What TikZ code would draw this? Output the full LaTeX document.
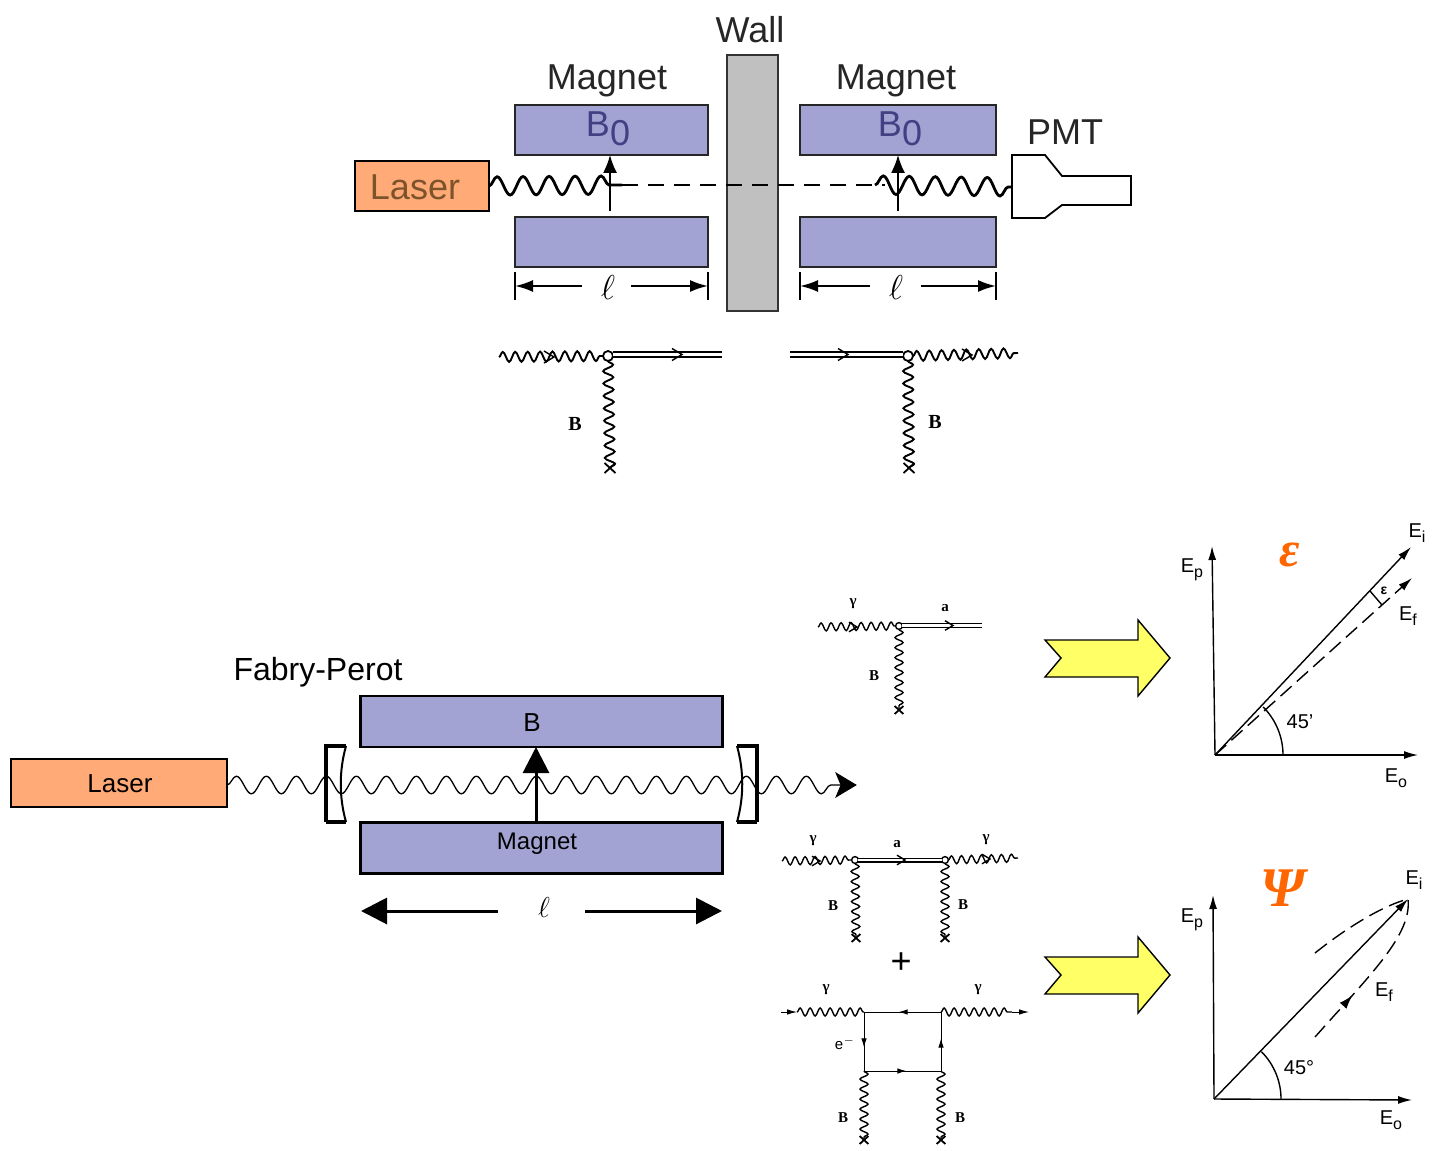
\documentclass[tikz,border=0pt]{standalone}
\usepackage{fontspec}
\setmainfont{Liberation Sans}
\newfontfamily\slabfont{Liberation Serif}
\usetikzlibrary{arrows.meta,decorations.pathmorphing,decorations.markings,calc}
\definecolor{magblue}{HTML}{A2A2D3}
\definecolor{laserorange}{HTML}{FFAA77}
\definecolor{wallgray}{HTML}{C0C0C0}
\definecolor{brightorange}{HTML}{FF6600}
\definecolor{yellowarrow}{HTML}{FFFF66}
\newcommand{\Esub}[1]{E\raisebox{-2.5pt}{\fontsize{8}{8}\selectfont #1}}
\tikzset{
  every node/.style={inner sep=0pt,outer sep=0pt},
  topmag/.style={draw=black!85,line width=1.1pt,fill=magblue,minimum height=25pt},
  botmag/.style={draw=black,line width=1.2pt,fill=magblue,minimum width=181pt,minimum height=25.5pt},
  laserbox/.style={draw=black,fill=laserorange},
  toptext/.style={font=\fontsize{18}{20}\selectfont,text=black!85},
  bigwave/.style={decorate,decoration={snake,segment length=13pt,amplitude=4.6pt},line width=1.4pt},
  fpwave/.style={decorate,decoration={snake,segment length=15pt,amplitude=4.4pt},line width=.65pt},
  feynbig/.style={decorate,decoration={snake,segment length=6.2pt,amplitude=2.5pt},line width=.95pt},
  feynsmall/.style={decorate,decoration={snake,segment length=5pt,amplitude=2pt},line width=.7pt},
  vtxbig/.style={circle,draw,line width=.9pt,minimum size=5pt},
  vtxsmall/.style={circle,draw,line width=.7pt,minimum size=3.4pt},
  dblbig/.style={double,double distance=1.7pt,line width=.7pt},
  dblsmall/.style={double,double distance=1.4pt,line width=.55pt},
  lab/.style={font=\slabfont\bfseries\fontsize{10}{11}\selectfont},
  labs/.style={font=\slabfont\bfseries\fontsize{7.5}{8}\selectfont},
  axis/.style={line width=.7pt,-{Latex[length=7pt,width=4pt]}},
  axlab/.style={font=\fontsize{10}{12}\selectfont},
  bigtip/.style={-{Triangle[length=13pt,width=13pt]},line width=1.5pt},
  midtip/.style={postaction={decorate,decoration={markings,mark=at position #1 with {\arrow{Latex[length=4.5pt,width=2.8pt]}}}}},
  wire/.style={line width=.5pt},
  chevron/.pic={\draw[line width=.7pt] (-10,-6) -- (0,0) -- (-10,6);},
  xmark/.pic={\draw[line width=.9pt] (-5.5,-5) -- (5.5,5) (-5.5,5) -- (5.5,-5);},
  yarrow/.style={draw=black,line width=.7pt,fill=yellowarrow}
}
\begin{document}
\begin{tikzpicture}[x=.5pt,y=-.5pt]
\useasboundingbox (0,0) rectangle (1433,1150);
% ---------- top apparatus
\node[draw=black!80,line width=1.1pt,fill=wallgray,minimum width=25.5pt,minimum height=128pt] (wall) at (752.5,183) {};
\node[toptext] (walltext) at (750,30) {Wall};
\node[toptext] (magtextL) at (607,81) {Magnet};
\node[toptext] (magtextR) at (896,81) {Magnet};
\node[toptext] (pmttext) at (1065,132) {PMT};
\node[topmag,minimum width=96.5pt] (mTL) at (611.5,130) {};
\node[topmag,minimum width=96.5pt] (mBL) at (611.5,242) {};
\node[topmag,minimum width=98pt] (mTR) at (898,130) {};
\node[topmag,minimum width=98pt] (mBR) at (898,242) {};
\node[font=\fontsize{18}{20}\selectfont,text=blue!35!black!75] (b0L) at (608,129) {B\raisebox{-4.5pt}{0}};
\node[font=\fontsize{18}{20}\selectfont,text=blue!35!black!75] (b0R) at (900,129) {B\raisebox{-4.5pt}{0}};
\node[laserbox,line width=1.1pt,minimum width=67pt,minimum height=25pt] (laserT) at (422,186) {};
\node[font=\fontsize{18}{20}\selectfont,text=brown!65!black] (lasertextT) at (415,187) {Laser};
\coordinate (pmtA) at (1012,155);
\draw[line width=.9pt,fill=white] (pmtA) -- ++(33,0) -- ++(17,21) -- ++(69,0) -- ++(0,29) -- ++(-69,0) -- ++(-17,13) -- ++(-33,0) -- cycle;
\coordinate (beamM1) at (622,185);
\coordinate (beamM2) at (885,185);
\coordinate (beamR) at (875,185);
\coordinate (pmtIn) at (1012,187);
\draw[bigwave] (laserT.east) -- (beamM1);
\draw[line width=1pt,dash pattern=on 8pt off 5pt] (beamM1) -- (beamM2);
\draw[bigwave] (beamR) -- (pmtIn);
\coordinate (fieldL) at (610,211);
\coordinate (fieldR) at (898,211);
\draw[line width=.8pt,-{Latex[length=9pt,width=7pt]}] (fieldL) -- (fieldL |- mTL.south);
\draw[line width=.8pt,-{Latex[length=9pt,width=7pt]}] (fieldR) -- (fieldR |- mTR.south);
% dimensions top
\coordinate (d1a) at (515,286); \coordinate (d1b) at (582,286);
\coordinate (d1c) at (631,286); \coordinate (d1d) at (708,286);
\coordinate (d2a) at (800,286); \coordinate (d2b) at (870,286);
\coordinate (d2c) at (921,286); \coordinate (d2d) at (996,286);
\foreach \p in {d1a,d1d,d2a,d2d} \draw[line width=.9pt] ($(\p)+(0,-14)$) -- ($(\p)+(0,14)$);
\draw[line width=1pt,-{Latex[length=9pt,width=6pt]}] (d1b) -- (d1a);
\draw[line width=1pt,-{Latex[length=9pt,width=6pt]}] (d1c) -- (d1d);
\draw[line width=1pt,-{Latex[length=9pt,width=6pt]}] (d2b) -- (d2a);
\draw[line width=1pt,-{Latex[length=9pt,width=6pt]}] (d2c) -- (d2d);
\node[font=\bfseries\fontsize{18}{20}\selectfont] (ell1) at (608,287) {$\ell$};
\node[font=\bfseries\fontsize{18}{20}\selectfont] (ell2) at (896,287) {$\ell$};
% ---------- top Feynman diagrams
\node[vtxbig] (v1) at (608,356) {};
\coordinate (w1) at (499,357);
\coordinate (x1) at (610,468);
\coordinate (d1s) at (613,354.5); \coordinate (d1e) at (722,354.5);
\draw[feynbig] (w1) -- (v1.west);
\draw[feynbig] (v1.south) -- (x1);
\draw[dblbig] (d1s) -- (d1e);
\pic at (682,354.5) {chevron};
\pic at (554,357) {chevron};
\pic at (x1) {xmark};
\node[lab] (bF1) at (575,424) {B};
\node[vtxbig] (v2) at (908,356) {};
\coordinate (w2) at (1018,353);
\coordinate (x2) at (909,468);
\coordinate (d2s) at (790,354.5); \coordinate (d2e) at (903,354.5);
\draw[feynbig] (v2.east) -- (w2);
\draw[feynbig] (v2.south) -- (x2);
\draw[dblbig] (d2s) -- (d2e);
\pic at (848,354.5) {chevron};
\pic at (972,355) {chevron};
\pic at (x2) {xmark};
\node[lab] (bF2) at (935,422) {B};
% ---------- Fabry-Perot cavity
\node[font=\fontsize{16}{18}\selectfont] (fp) at (318,672) {Fabry-Perot};
\node[laserbox,line width=.9pt,minimum width=108pt,minimum height=24pt] (laserB) at (119,783) {};
\node[font=\fontsize{13}{15}\selectfont] (lasertextB) at (120,784) {Laser};
\node[botmag] (magB) at (541.5,721.5) {};
\node[botmag] (magM) at (541.5,848) {};
\node[font=\fontsize{13}{15}\selectfont] (btext) at (532,723) {B};
\node[font=\fontsize{12}{14}\selectfont] (magtextB) at (537,844) {Magnet};
\coordinate (wA) at (227,785);
\coordinate (wB) at (845,785);
\coordinate (wTip) at (856,785);
\draw[fpwave] (wA) -- (wB);
\draw[fill=black] (wTip) -- ++(-20,-12) -- ++(5,12) -- ++(-5,12) -- cycle;
\coordinate (mLt) at (326,746); \coordinate (mLb) at (326,822);
\coordinate (mRt) at (757,746); \coordinate (mRb) at (757,822);
\draw[line width=1.6pt] (mLb) -- (mLt) -- ++(20,0);
\draw[line width=1.6pt] (mLb) -- ++(20,0);
\draw[line width=1pt] ($(mLt)+(20,0)$) .. controls ($(mLt)+(13,25)$) and ($(mLb)+(13,-25)$) .. ($(mLb)+(20,0)$);
\draw[line width=1.6pt] (mRb) -- (mRt) -- ++(-20,0);
\draw[line width=1.6pt] (mRb) -- ++(-20,0);
\draw[line width=1pt] ($(mRt)+(-20,0)$) .. controls ($(mRt)+(-13,25)$) and ($(mRb)+(-13,-25)$) .. ($(mRb)+(-20,0)$);
\coordinate (fieldB) at (536,823);
\draw[bigtip,line width=1.5pt] (fieldB) -- (fieldB |- magB.south);
\coordinate (dbA) at (361,911); \coordinate (dbB) at (498,911);
\coordinate (dbC) at (585,911); \coordinate (dbD) at (722,911);
\draw[bigtip] (dbB) -- (dbA);
\draw[bigtip] (dbC) -- (dbD);
\node[font=\fontsize{15}{17}\selectfont] (ellB) at (544,907) {$\ell$};
% ---------- Feynman a
\node[vtxsmall] (v3) at (899,626) {};
\coordinate (w3) at (818,627);
\coordinate (x3) at (899,710);
\coordinate (d3s) at (902,625.5); \coordinate (d3e) at (982,625.5);
\draw[feynsmall] (w3) -- (v3.west);
\draw[feynsmall] (v3.south) -- (x3);
\draw[dblsmall] (d3s) -- (d3e);
\pic[scale=.8] at (953,625.5) {chevron};
\pic[scale=.8] at (857,627) {chevron};
\pic[scale=.8] at (x3) {xmark};
\node[labs] (g3) at (853,604) {γ};
\node[labs] (a3) at (945,608) {a};
\node[labs] (b3) at (874,676) {B};
% ---------- Feynman b
\node[vtxsmall] (v4) at (855,860) {};
\node[vtxsmall] (v5) at (945,860) {};
\coordinate (w4) at (782,861);
\coordinate (w5) at (1018,858);
\coordinate (x4) at (856,938);
\coordinate (x5) at (945,938);
\draw[feynsmall] (w4) -- (v4.west);
\draw[feynsmall] (v5.east) -- (w5);
\draw[feynsmall] (v4.south) -- (x4);
\draw[feynsmall] (v5.south) -- (x5);
\draw[dblsmall] (v4.east) -- (v5.west);
\pic[scale=.8] at (905,860) {chevron};
\pic[scale=.8] at (820,861) {chevron};
\pic[scale=.8] at (990,859) {chevron};
\pic[scale=.8] at (x4) {xmark};
\pic[scale=.8] at (x5) {xmark};
\node[labs] (g4) at (813,841) {γ};
\node[labs] (a4) at (897,844) {a};
\node[labs] (g5) at (986,840) {γ};
\node[labs] (b4) at (833,906) {B};
\node[labs] (b5) at (963,905) {B};
\node[font=\fontsize{18}{20}\selectfont] (plus) at (901,963) {+};
% ---------- box diagram
\coordinate (c1) at (864,1012); \coordinate (c2) at (941,1012);
\coordinate (c3) at (941,1071); \coordinate (c4) at (864,1071);
\coordinate (in1) at (781,1012); \coordinate (in2) at (797,1012);
\coordinate (out1) at (1012,1012); \coordinate (out2) at (1029,1012);
\coordinate (x6) at (864,1140); \coordinate (x7) at (941,1140);
\draw[wire,-{Latex[length=5pt,width=2.8pt]}] (in1) -- (in2);
\draw[feynsmall] (in2) -- (c1);
\draw[feynsmall] (c2) -- (out1);
\draw[wire,-{Latex[length=5pt,width=2.8pt]}] (out1) -- (out2);
\draw[wire,midtip=.55] (c2) -- (c1);
\draw[wire,midtip=.6] (c1) -- (c4);
\draw[wire,midtip=.55] (c4) -- (c3);
\draw[wire,midtip=.55] (c3) -- (c2);
\draw[feynsmall] (c4) -- (x6);
\draw[feynsmall] (c3) -- (x7);
\pic[scale=.8] at (x6) {xmark};
\pic[scale=.8] at (x7) {xmark};
\node[labs] (g6) at (826,990) {γ};
\node[labs] (g7) at (978,990) {γ};
\node[labs,font=\fontsize{7.5}{8}\selectfont] (e6) at (845,1043) {e$^{-}$};
\node[labs] (b6) at (843,1118) {B};
\node[labs] (b7) at (960,1118) {B};
% ---------- yellow arrows
\draw[yarrow] (1045,640) -- (1138,640) -- (1138,620) -- (1170,658) -- (1138,696) -- (1138,677) -- (1045,677) -- (1061,658) -- cycle;
\draw[yarrow] (1045,957) -- (1138,957) -- (1138,937) -- (1170,975) -- (1138,1013) -- (1138,994) -- (1045,994) -- (1061,975) -- cycle;
% ---------- polarisation plot 1
\coordinate (o1) at (1215,755);
\coordinate (o1y) at (1212,546); \coordinate (o1x) at (1418,755);
\coordinate (o1i) at (1411,547); \coordinate (o1f) at (1412,578);
\coordinate (a1) at (1283,755);
\coordinate (t1a) at (1370,591); \coordinate (t1b) at (1382,605);
\draw[axis] (o1) -- (o1y);
\draw[axis] (o1) -- (o1x);
\draw[axis] (o1) -- (o1i);
\draw[axis,dash pattern=on 7.5pt off 3.5pt] (o1) -- (o1f);
\draw[line width=.7pt] (a1) arc[start angle=0,end angle=45,radius=34pt];
\draw[line width=.7pt] (t1a) -- (t1b);
\node[font=\bfseries\fontsize{7}{8}\selectfont] (eps) at (1384,591) {ε};
\node[axlab] (ei1) at (1417,533) {\Esub{i}};
\node[axlab] (ep1) at (1192,570) {\Esub{p}};
\node[axlab] (ef1) at (1408,616) {\Esub{f}};
\node[axlab] (eo1) at (1396,778) {\Esub{o}};
\node[axlab] (d1) at (1300,722) {45'};
\node[font=\slabfont\bfseries\itshape\fontsize{25}{26}\selectfont,text=brightorange] (epsB) at (1290,555) {ε};
% ---------- polarisation plot 2
\coordinate (o2) at (1214,1099);
\coordinate (o2y) at (1213,895); \coordinate (o2x) at (1412,1100);
\coordinate (o2i) at (1408,899);
\coordinate (a2) at (1281,1099);
\draw[axis] (o2) -- (o2y);
\draw[axis] (o2) -- (o2x);
\draw[axis] (o2) -- (o2i);
\draw[line width=.7pt] (a2) arc[start angle=0,end angle=45,radius=33.5pt];
\coordinate (c2a) at (1315,953); \coordinate (c2b) at (1315,1037);
\draw[line width=.7pt,dash pattern=on 7.5pt off 3.5pt] (c2a) .. controls (1350,925) and (1385,905) .. (o2i);
\draw[line width=.7pt,dash pattern=on 7.5pt off 3.5pt,postaction={decorate,decoration={markings,mark=at position .33 with {\arrow{Latex[length=7pt,width=4.5pt]}}}}] (c2b) .. controls (1370,975) and (1412,935) .. (o2i);
\node[axlab] (ei2) at (1414,880) {\Esub{i}};
\node[axlab] (ep2) at (1192,920) {\Esub{p}};
\node[axlab] (ef2) at (1384,992) {\Esub{f}};
\node[axlab] (eo2) at (1391,1120) {\Esub{o}};
\node[axlab] (d2) at (1299,1068) {45°};
\node[font=\slabfont\bfseries\itshape\fontsize{28}{30}\selectfont,text=brightorange] (psiB) at (1283,888) {Ψ};
\end{tikzpicture}
\end{document}
